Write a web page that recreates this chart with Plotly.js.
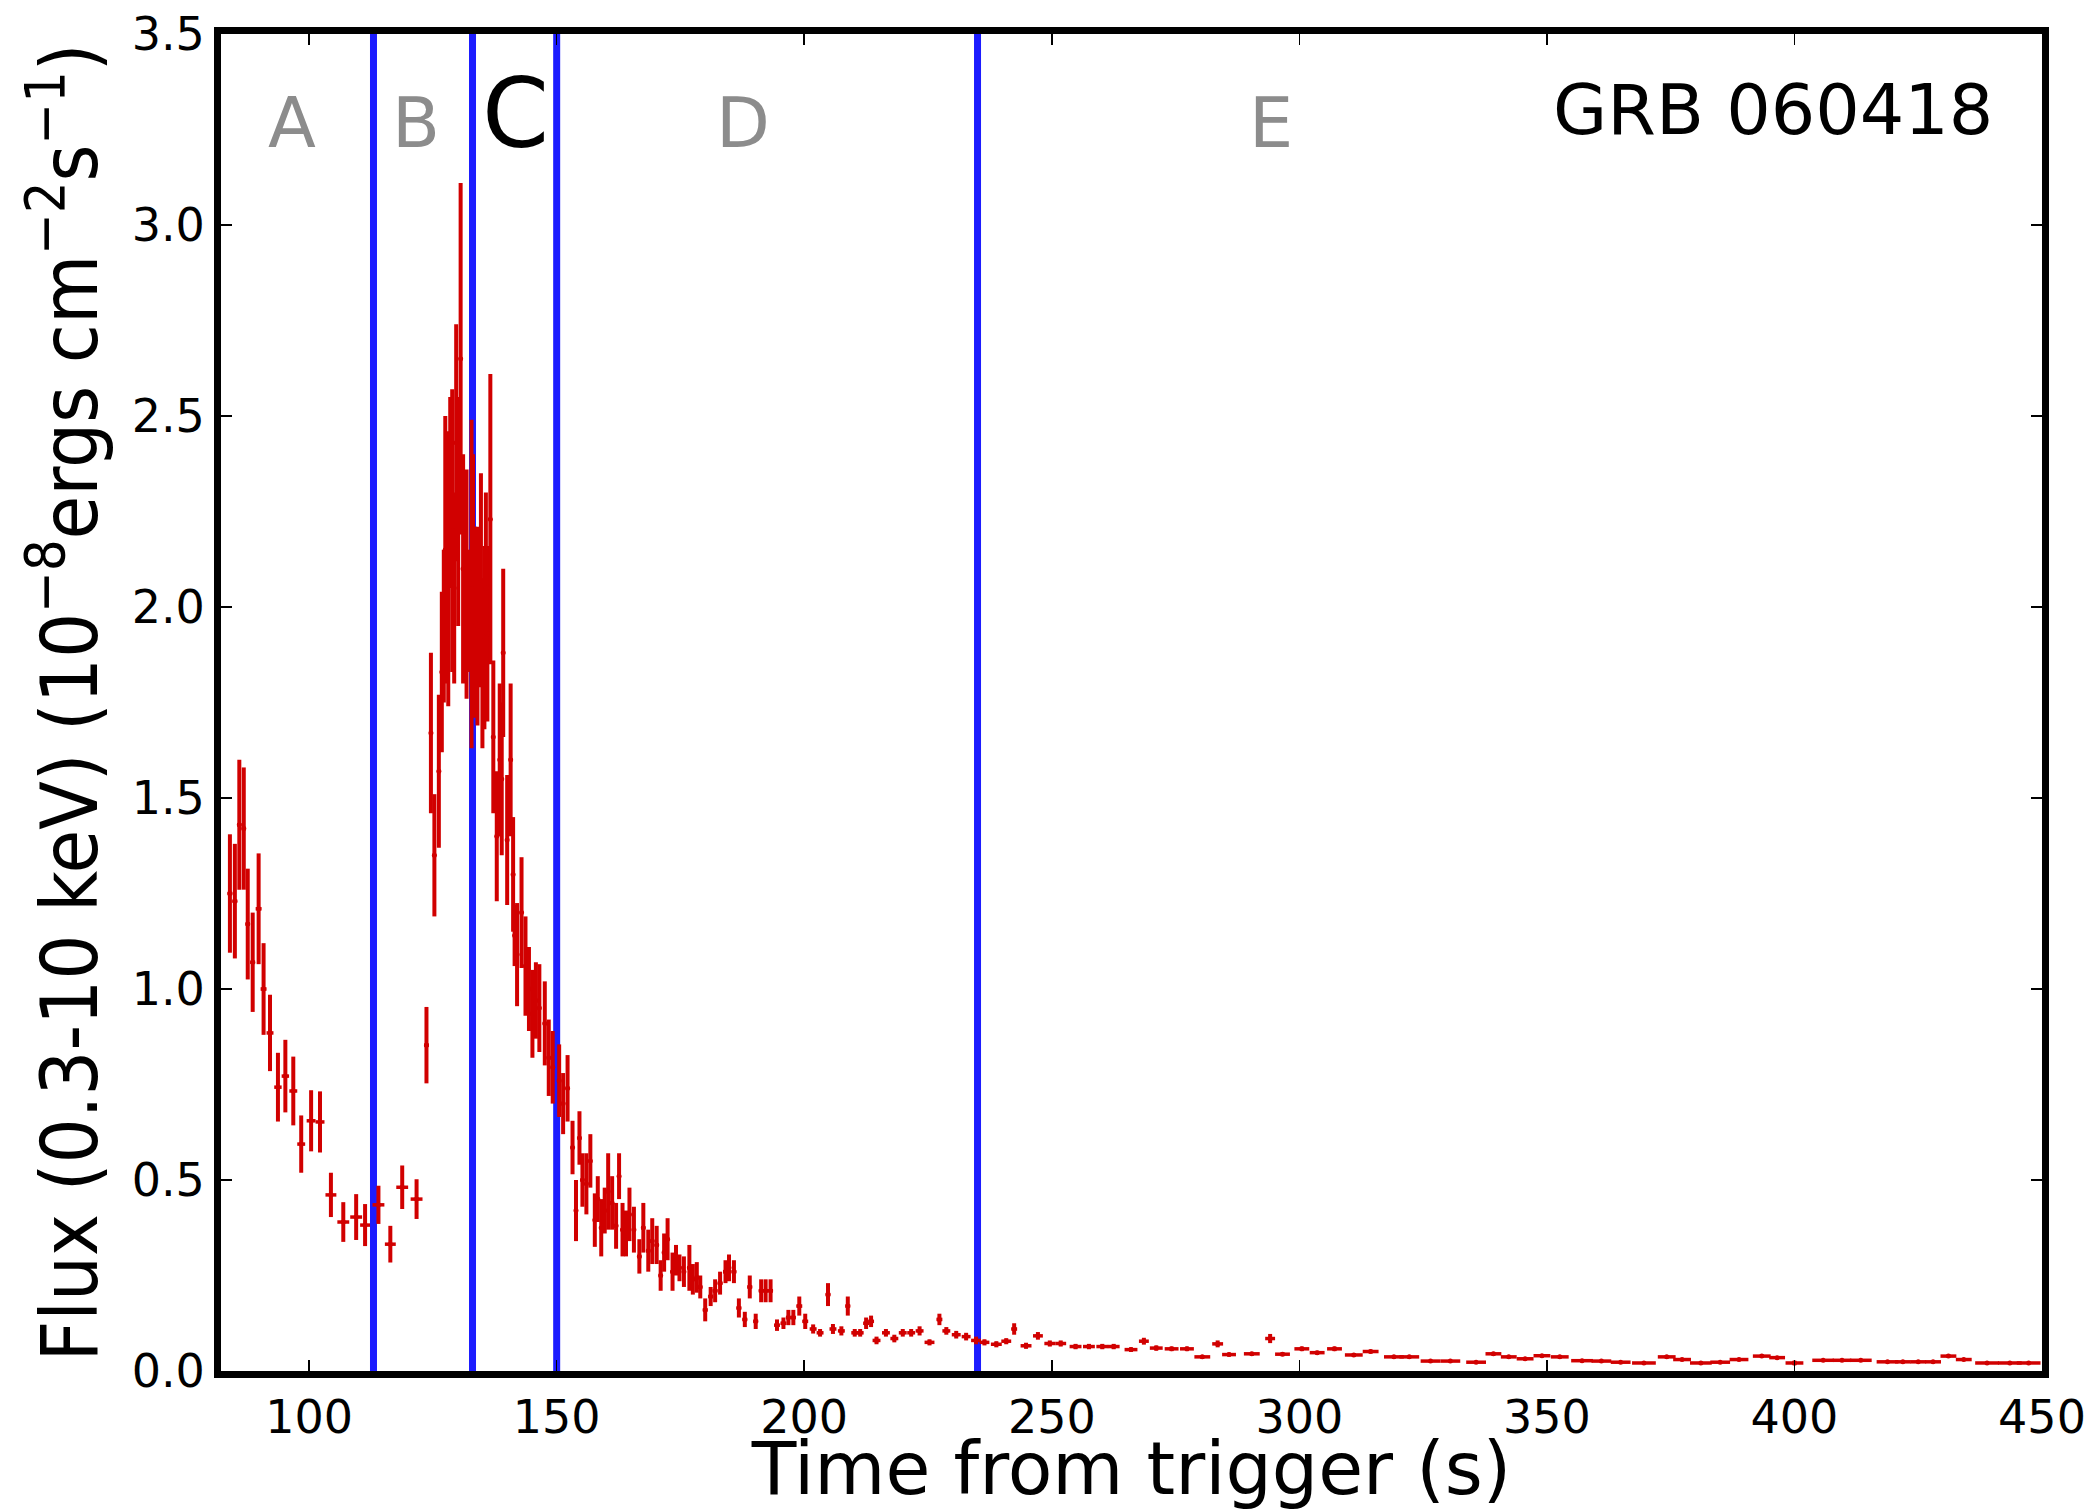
<!DOCTYPE html>
<html>
<head>
<meta charset="utf-8">
<script src="https://cdn.plot.ly/plotly-3.0.1.min.js"></script>
<style>
html, body { margin: 0; padding: 0; background: #ffffff; }
#chart { width: 2098px; height: 1511px; }
</style>
</head>
<body>
<div id="chart"></div>
<script>
// ---- Data (GRB 060418, Swift XRT) ----
const time = [
  84.0, 85.0, 85.9, 86.8, 87.6, 88.6, 89.8, 90.8, 92.1, 93.7, 95.2, 96.8, 98.4, 100.4, 102.2,
  104.4, 106.9, 109.5, 111.3, 114.0, 116.4, 118.8, 121.7, 123.7,
  124.6, 125.3, 126.2, 126.8, 127.2, 127.5, 128.1, 128.5, 128.9, 129.3, 129.7, 130.1, 130.6,
  131.1, 131.8, 132.4, 132.8, 133.1, 133.5, 134.0, 134.7, 135.0, 135.4, 135.7, 136.0, 136.6,
  137.2, 137.9, 138.5, 138.9, 139.2, 140.0, 140.7, 141.2, 141.5,
  142.0, 142.9, 143.7, 144.4, 145.1, 145.8, 146.5, 147.6, 148.4, 149.2, 150.5, 151.3, 152.2,
  153.2, 153.9, 154.6, 155.2, 156.0, 156.8, 157.7, 158.3, 159.0, 159.7, 160.4, 161.2, 162.0,
  162.6, 163.3, 164.0, 164.7, 165.6, 166.7, 167.5, 168.5, 169.3, 170.2, 171.0, 171.7, 172.4,
  173.4, 174.1, 174.8, 175.7, 176.8, 177.5, 178.3, 179.0, 180.0, 181.1, 182.0, 183.0, 184.1,
  184.8, 185.8, 186.8, 188.0, 189.0, 190.2, 191.3, 192.2, 193.2, 194.5, 195.8, 196.8, 197.8,
  199.0, 200.2, 201.8, 203.2, 204.8, 205.8, 207.5, 208.8, 210.2, 211.3, 212.5, 213.5, 214.6,
  216.5, 218.2, 219.9, 221.6, 223.3, 225.3, 227.3, 228.7, 230.7, 232.7, 234.7, 236.4, 238.8,
  240.8, 242.4, 244.8, 247.2, 249.6, 251.8, 254.8, 257.5, 260.2, 262.5, 266.0, 268.6, 271.1,
  274.2, 277.3, 280.4, 283.5, 285.8, 290.4, 294.1, 296.6, 300.5, 303.6, 307.1, 311.0, 314.4,
  319.1, 322.2, 326.5, 330.5, 335.7, 339.2, 342.3, 345.6, 349.0, 352.6, 357.1, 361.0, 364.9,
  369.6, 374.2, 377.3, 381.1, 385.0, 388.8, 393.4, 396.5, 400.0, 405.8, 409.6, 413.4, 418.8,
  421.9, 425.0, 428.0, 431.1, 434.2, 438.9, 443.5, 447.3
];
const flux = [
  1.25, 1.23, 1.43, 1.42, 1.17, 1.07, 1.21, 1.00, 0.885, 0.743, 0.772, 0.733, 0.594, 0.655, 0.652,
  0.461, 0.39, 0.403, 0.382, 0.435, 0.332, 0.481, 0.45, 0.853,
  1.67, 1.35, 1.57, 1.83, 1.95, 2.15, 2.10, 2.30, 2.20, 2.05, 2.43, 2.25, 2.65,
  2.10, 2.06, 1.99, 2.06, 2.10, 1.96, 1.95, 2.07, 1.85, 1.92, 2.05, 1.93, 2.23,
  1.66, 1.40, 1.60, 1.55, 1.88, 1.39, 1.60, 1.30, 1.14,
  1.09, 1.20, 1.06, 1.00, 0.935, 0.97, 0.95, 0.91, 0.82, 0.795, 0.76, 0.70, 0.74,
  0.585, 0.42, 0.61, 0.50, 0.49, 0.55, 0.395, 0.45, 0.375, 0.42, 0.47, 0.44, 0.38,
  0.51, 0.37, 0.36, 0.41, 0.37, 0.30, 0.375, 0.315, 0.34, 0.33, 0.25, 0.31, 0.345,
  0.26, 0.29, 0.27, 0.26, 0.27, 0.24, 0.245, 0.22, 0.16, 0.195, 0.21, 0.23, 0.26,
  0.27, 0.26, 0.165, 0.135, 0.22, 0.13, 0.21, 0.21, 0.21, 0.12, 0.125, 0.14, 0.14,
  0.17, 0.13, 0.11, 0.10, 0.20, 0.11, 0.105, 0.17, 0.10, 0.10, 0.125, 0.13, 0.08,
  0.10, 0.085, 0.10, 0.10, 0.105, 0.075, 0.135, 0.105, 0.095, 0.09, 0.08, 0.075, 0.07,
  0.078, 0.11, 0.066, 0.092, 0.072, 0.072, 0.064, 0.064, 0.064, 0.064, 0.056, 0.078, 0.06,
  0.058, 0.058, 0.037, 0.071, 0.043, 0.045, 0.085, 0.044, 0.058, 0.048, 0.058, 0.042, 0.051,
  0.037, 0.037, 0.026, 0.026, 0.023, 0.045, 0.037, 0.032, 0.04, 0.037, 0.027, 0.026, 0.023,
  0.021, 0.037, 0.030, 0.021, 0.023, 0.030, 0.039, 0.035, 0.021, 0.028, 0.028, 0.028, 0.024,
  0.024, 0.024, 0.024, 0.039, 0.030, 0.021, 0.021, 0.021
];
const fluxErr = [
  0.155, 0.15, 0.17, 0.16, 0.145, 0.13, 0.145, 0.12, 0.10, 0.09, 0.095, 0.09, 0.075, 0.08, 0.08,
  0.058, 0.052, 0.06, 0.055, 0.05, 0.048, 0.057, 0.052, 0.10,
  0.21, 0.16, 0.20, 0.21, 0.20, 0.35, 0.36, 0.25, 0.37, 0.25, 0.31, 0.30, 0.46,
  0.30, 0.30, 0.16, 0.43, 0.30, 0.25, 0.26, 0.28, 0.22, 0.24, 0.25, 0.23, 0.38,
  0.20, 0.17, 0.20, 0.20, 0.22, 0.17, 0.20, 0.15, 0.08,
  0.135, 0.145, 0.13, 0.11, 0.115, 0.10, 0.115, 0.11, 0.10, 0.095, 0.095, 0.08, 0.087,
  0.07, 0.08, 0.07, 0.07, 0.08, 0.07, 0.07, 0.06, 0.075, 0.06, 0.10, 0.07, 0.06,
  0.06, 0.07, 0.06, 0.07, 0.06, 0.045, 0.065, 0.055, 0.06, 0.05, 0.04, 0.05, 0.055,
  0.05, 0.04, 0.035, 0.04, 0.06, 0.04, 0.04, 0.03, 0.03, 0.025, 0.03, 0.03, 0.03,
  0.035, 0.03, 0.025, 0.02, 0.03, 0.02, 0.03, 0.03, 0.03, 0.015, 0.015, 0.02, 0.02,
  0.025, 0.02, 0.012, 0.01, 0.03, 0.013, 0.012, 0.025, 0.01, 0.01, 0.015, 0.015, 0.01,
  0.01, 0.01, 0.01, 0.01, 0.012, 0.008, 0.015, 0.01, 0.01, 0.01, 0.01, 0.008, 0.008,
  0.008, 0.015, 0.008, 0.01, 0.008, 0.008, 0.007, 0.007, 0.007, 0.007, 0.006, 0.009, 0.007,
  0.006, 0.006, 0.005, 0.009, 0.005, 0.005, 0.012, 0.005, 0.006, 0.005, 0.006, 0.005, 0.005,
  0.004, 0.004, 0.003, 0.003, 0.003, 0.005, 0.004, 0.004, 0.004, 0.004, 0.003, 0.003, 0.003,
  0.003, 0.004, 0.003, 0.003, 0.003, 0.003, 0.004, 0.004, 0.006, 0.003, 0.003, 0.003, 0.003,
  0.003, 0.003, 0.003, 0.004, 0.003, 0.003, 0.003, 0.003
];
const timeErr = [
  0.5, 0.5, 0.45, 0.45, 0.45, 0.5, 0.6, 0.6, 0.7, 0.75, 0.75, 0.8, 0.8, 0.9, 0.9,
  1.1, 1.2, 1.2, 1.0, 1.2, 1.1, 1.2, 1.2, 0.5,
  0.35, 0.35, 0.35, 0.3, 0.2, 0.3, 0.3, 0.2, 0.35, 0.2, 0.35, 0.2, 0.3,
  0.3, 0.3, 0.3, 0.3, 0.2, 0.3, 0.3, 0.35, 0.2, 0.3, 0.2, 0.3, 0.3,
  0.3, 0.3, 0.3, 0.2, 0.35, 0.35, 0.35, 0.2, 0.3,
  0.3, 0.35, 0.35, 0.35, 0.35, 0.35, 0.35, 0.4, 0.4, 0.4, 0.4, 0.4, 0.4,
  0.35, 0.35, 0.35, 0.35, 0.35, 0.35, 0.35, 0.35, 0.35, 0.35, 0.35, 0.35, 0.35,
  0.35, 0.35, 0.35, 0.35, 0.4, 0.4, 0.4, 0.4, 0.4, 0.4, 0.4, 0.4, 0.4,
  0.4, 0.4, 0.4, 0.4, 0.4, 0.4, 0.4, 0.4, 0.5, 0.5, 0.5, 0.5, 0.5,
  0.4, 0.5, 0.5, 0.5, 0.5, 0.5, 0.5, 0.5, 0.5, 0.6, 0.6, 0.5, 0.5,
  0.6, 0.6, 0.7, 0.7, 0.5, 0.7, 0.7, 0.5, 0.7, 0.7, 0.6, 0.6, 0.8,
  0.8, 0.8, 0.8, 0.8, 0.8, 1.0, 0.6, 0.8, 0.9, 0.9, 1.0, 1.0, 1.1,
  1.0, 0.6, 1.1, 1.0, 1.1, 1.1, 1.2, 1.2, 1.2, 1.2, 1.3, 1.0, 1.3,
  1.4, 1.4, 1.6, 1.1, 1.4, 1.6, 1.0, 1.5, 1.5, 1.5, 1.5, 1.8, 1.6,
  2.0, 2.0, 2.0, 2.0, 2.0, 1.6, 1.6, 1.7, 1.7, 1.8, 2.2, 2.0, 2.0,
  2.4, 1.8, 1.8, 2.2, 2.0, 1.9, 1.8, 1.6, 1.8, 2.2, 1.9, 2.2, 2.2,
  1.6, 1.6, 1.6, 1.6, 1.6, 2.4, 2.4, 2.4
];

// Interval boundaries (s) and region labels
const boundaries = [113, 133, 150, 235];
const regionNames = ['A', 'B', 'C', 'D', 'E'];
const regionTimes = [96.5, 121.6, 141.7, 187.6, 294.3];
const highlightRegion = 'C';
const burstName = 'GRB 060418';

// Axis ticks
const xTicks = [100, 150, 200, 250, 300, 350, 400, 450];
const yTicks = [0, 0.5, 1.0, 1.5, 2.0, 2.5, 3.0, 3.5];

const RED = '#d10000';
const BLUE = '#1c1cff';
const FONT = 'DejaVu Sans, Liberation Sans, sans-serif';

const trace = {
  type: 'scatter',
  mode: 'markers',
  x: time,
  y: flux,
  marker: { size: 5, color: RED },
  error_y: { type: 'data', array: fluxErr, visible: true, color: RED, thickness: 4, width: 0 },
  error_x: { type: 'data', array: timeErr, visible: true, color: RED, thickness: 3.5, width: 0 },
  hoverinfo: 'x+y'
};

const shapes = boundaries.map(t => ({
  type: 'line', xref: 'x', yref: 'paper', x0: t, x1: t, y0: 0, y1: 1,
  line: { color: BLUE, width: 7 }, layer: 'below'
}));

const annotations = regionNames.map((name, i) => {
  const hi = name === highlightRegion;
  return {
    x: regionTimes[i], y: hi ? 3.29 : 3.268, xref: 'x', yref: 'y',
    text: name, showarrow: false, xanchor: 'center', yanchor: 'middle',
    font: { family: FONT, size: hi ? 96 : 70, color: hi ? '#000000' : '#8c8c8c' }
  };
});
annotations.push({
  x: 440.5, y: 3.30, xref: 'x', yref: 'y', text: burstName, showarrow: false,
  xanchor: 'right', yanchor: 'middle',
  font: { family: FONT, size: 70, color: '#000000' }
});

const axisCommon = {
  showline: true, linewidth: 7, linecolor: '#000000', mirror: 'ticks',
  ticks: 'inside', ticklen: 11, tickwidth: 1.5, tickcolor: '#000000',
  showgrid: false, zeroline: false, automargin: false,
  tickfont: { family: FONT, size: 46, color: '#000000' }
};

const layout = {
  width: 2098, height: 1511,
  margin: { l: 221, r: 56, t: 34, b: 140, pad: 0 },
  paper_bgcolor: '#ffffff', plot_bgcolor: '#ffffff',
  showlegend: false,
  font: { family: FONT, color: '#000000' },
  xaxis: Object.assign({}, axisCommon, {
    range: [82.2, 450], tickmode: 'array', tickvals: xTicks,
    ticktext: xTicks.map(v => String(v)),
    title: { text: 'Time from trigger (s)', font: { family: FONT, size: 73, color: '#000000' }, standoff: 12 }
  }),
  yaxis: Object.assign({}, axisCommon, {
    range: [0, 3.5], tickmode: 'array', tickvals: yTicks,
    ticktext: yTicks.map(v => v.toFixed(1)),
    title: {
      text: 'Flux (0.3-10 keV) (10<sup>\u22128</sup>ergs cm<sup>\u22122</sup>s<sup>\u22121</sup>)',
      font: { family: 'DejaVu Sans Condensed, DejaVu Sans, sans-serif', size: 79, color: '#000000' },
      standoff: 10
    }
  }),
  shapes: shapes,
  annotations: annotations
};

Plotly.newPlot('chart', [trace], layout, { staticPlot: true, displayModeBar: false });
</script>
</body>
</html>
